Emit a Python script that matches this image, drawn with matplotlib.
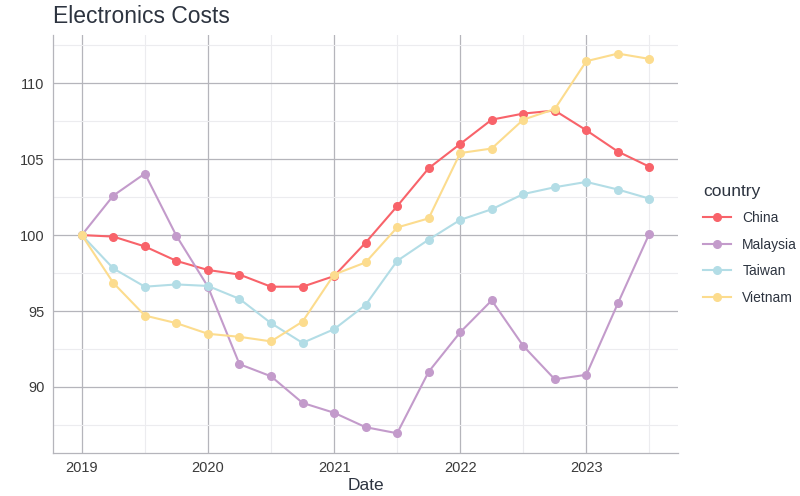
import numpy as np
import matplotlib
matplotlib.use('Agg')
import matplotlib.pyplot as plt
from matplotlib.ticker import MultipleLocator

plt.rcParams['font.family'] = ['Liberation Sans', 'DejaVu Sans']

# Quarterly dates, 2019 Q1 .. 2023 Q3 (as decimal years)
dates = 2019 + 0.25 * np.arange(19)

china = [100.0, 99.9, 99.25, 98.3, 97.7, 97.4, 96.6, 96.6, 97.3, 99.5,
         101.9, 104.4, 106.0, 107.6, 108.0, 108.2, 106.9, 105.5, 104.5]
malaysia = [100.0, 102.6, 104.05, 99.95, 96.6, 91.5, 90.7, 88.95, 88.3, 87.35,
            86.95, 91.0, 93.6, 95.7, 92.7, 90.5, 90.8, 95.5, 100.1]
taiwan = [100.0, 97.8, 96.6, 96.75, 96.65, 95.8, 94.2, 92.9, 93.8, 95.4,
          98.3, 99.7, 101.0, 101.7, 102.7, 103.15, 103.5, 103.0, 102.4]
vietnam = [100.0, 96.85, 94.7, 94.2, 93.5, 93.3, 93.0, 94.3, 97.4, 98.2,
           100.5, 101.1, 105.4, 105.7, 107.6, 108.3, 111.45, 111.95, 111.6]

countries = ['China', 'Malaysia', 'Taiwan', 'Vietnam']
series = [china, malaysia, taiwan, vietnam]
colors = ['#F8636A', '#C39BCB', '#B3DDE6', '#FCDC8E']

fig = plt.figure(figsize=(8, 4.96), dpi=100)
ax = fig.add_axes([0.066, 0.087, 0.782, 0.842])

for name, vals, c in zip(countries, series, colors):
    ax.plot(dates, vals, color=c, lw=1.5, marker='o', ms=5.5, label=name, zorder=3)

ax.set_xlim(2018.77, 2023.73)
ax.set_ylim(85.66, 113.16)
ax.xaxis.set_major_locator(MultipleLocator(1))
ax.xaxis.set_minor_locator(MultipleLocator(0.5))
ax.yaxis.set_major_locator(MultipleLocator(5))
ax.yaxis.set_minor_locator(MultipleLocator(2.5))
ax.xaxis.set_major_formatter(lambda v, p: f'{int(round(v))}')

ax.grid(which='major', color='#b5b5bb', lw=0.9)
ax.grid(which='minor', color='#ececef', lw=0.8)
ax.set_axisbelow(True)

for s in ['top', 'right']:
    ax.spines[s].set_visible(False)
for s in ['left', 'bottom']:
    ax.spines[s].set_color('#b5b5bb')
    ax.spines[s].set_linewidth(0.9)

ax.tick_params(which='both', length=0, labelsize=10.5, colors='#3a3a3a', pad=6)
ax.set_xlabel('Date', fontsize=12.5, color='#2d3440', labelpad=2)

fig.text(0.066, 0.967, 'Electronics Costs', fontsize=16.5, color='#2d3440', va='center', ha='left')

leg = ax.legend(loc='center left', bbox_to_anchor=(1.02, 0.5), frameon=False,
                title='country', fontsize=10, title_fontsize=12.5,
                handlelength=2, labelspacing=0.9, alignment='left')
for t in leg.get_texts():
    t.set_color('#2d3440')
leg.get_title().set_color('#2d3440')

fig.savefig('out.png', dpi=100)
